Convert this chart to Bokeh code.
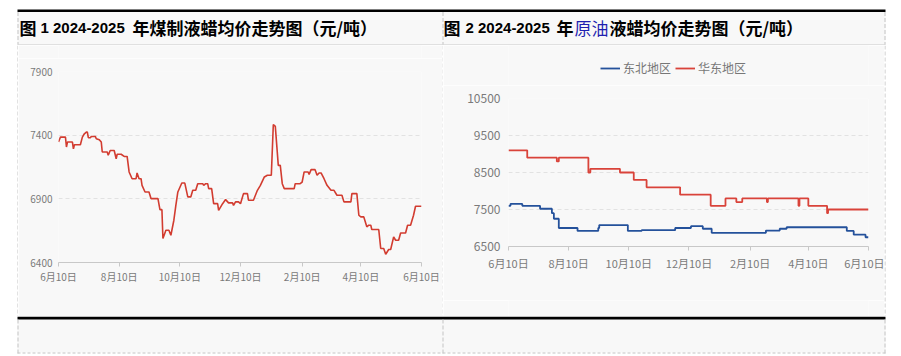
from bokeh.plotting import figure
from bokeh.layouts import column, row
from bokeh.models import Range1d, FixedTicker, Legend, LegendItem
from bokeh.embed import file_html
from bokeh.resources import INLINE
from bokeh.core.properties import value

# ---------------- data ----------------
# x values: days since 2024-06-10
tick_days = [0, 61, 122, 183, 245, 304, 365]
tick_labels = ["6月10日", "8月10日", "10月10日", "12月10日", "2月10日", "4月10日", "6月10日"]

# Figure 1: coal-based liquid wax average price (yuan/ton)
days_coal = [0, 2, 7, 8, 9, 14, 15, 16, 22, 24,
             26, 28, 29, 30, 32, 33, 37, 38, 41, 43,
             44, 49, 50, 52, 56, 58, 59, 63, 66, 69,
             71, 74, 78, 79, 81, 83, 84, 87, 91, 93,
             100, 102, 104, 105, 108, 111, 113, 116, 118, 120,
             124, 127, 130, 133, 135, 138, 140, 145, 146, 148,
             150, 151, 154, 156, 160, 161, 165, 168, 171, 175,
             176, 178, 181, 183, 186, 190, 191, 196, 200, 203,
             207, 210, 214, 216, 218, 221, 223, 225, 227, 237,
             238, 243, 245, 247, 251, 252, 254, 258, 260, 262,
             264, 267, 270, 274, 277, 280, 285, 287, 294, 295,
             300, 302, 304, 307, 310, 312, 314, 315, 322, 324,
             327, 329, 332, 334, 337, 339, 342, 344, 349, 351,
             354, 357, 359, 365]
price_coal = [7346, 7385, 7385, 7307, 7346, 7346, 7293, 7325, 7325, 7385,
              7411, 7424, 7424, 7380, 7380, 7390, 7390, 7372, 7364, 7346,
              7268, 7268, 7242, 7280, 7280, 7215, 7250, 7250, 7233, 7233,
              7111, 7058, 7058, 7103, 7058, 7058, 7006, 6954, 6954, 6902,
              6902, 6815, 6815, 6588, 6653, 6653, 6614, 6732, 6849, 6954,
              7024, 7024, 6915, 6915, 6967, 6967, 7019, 7019, 7006, 7019,
              7019, 6980, 6980, 6862, 6862, 6810, 6862, 6894, 6868, 6868,
              6849, 6876, 6876, 6862, 6941, 6941, 6889, 6889, 6967, 7006,
              7072, 7085, 7085, 7484, 7469, 7163, 7163, 7019, 6980, 6980,
              7019, 7019, 7032, 7111, 7111, 7092, 7129, 7129, 7085, 7103,
              7103, 7058, 7006, 6967, 6967, 6928, 6928, 6876, 6876, 6941,
              6941, 6771, 6758, 6758, 6680, 6693, 6693, 6659, 6659, 6510,
              6510, 6465, 6502, 6502, 6601, 6575, 6575, 6632, 6632, 6693,
              6693, 6771, 6842, 6842]
ticks_coal = [6400, 6900, 7400, 7900]

# Figure 2: crude-oil-based liquid wax (step changes: day -> price)
series_names = ["东北地区", "华东地区"]
days_ne = [0, 2, 14, 32, 44, 46, 51, 70, 91, 92, 121, 135, 169, 185, 197, 206, 261, 275, 282, 343, 350, 362, 365]
price_ne = [7600, 7650, 7600, 7520, 7400, 7250, 7000, 6920, 7000, 7080, 6920, 6940, 7000, 7050, 6980, 6870, 6930, 6980, 7020, 6920, 6820, 6750, 6750]
days_ec = [0, 19, 49, 51, 81, 83, 113, 127, 140, 174, 205, 220, 231, 237, 262, 263, 294, 295, 304, 323, 324, 365]
price_ec = [9100, 8900, 8800, 8900, 8500, 8600, 8500, 8300, 8100, 7900, 7600, 7800, 7700, 7800, 7700, 7800, 7600, 7800, 7600, 7400, 7500, 7500]
ticks_oil = [6500, 7500, 8500, 9500, 10500]

title1_parts = ["图", "1 2024-2025", "年煤制液蜡均价走势图（元/吨）"]
title2_parts = ["图", "2 2024-2025", "年", "原油", "液蜡均价走势图（元/吨）"]

# ---------------- style ----------------
FONT = "Noto Sans CJK SC"
LATIN = "Liberation Sans"
BG = "#f8f8f8"
BORDER = "#c4c4c4"
LABEL = "#7a7a7a"
RED1 = "#d23c30"
RED2 = "#d9433a"
BLUE = "#24519b"


def canvas(w, h, x0, x1, y0, y1, bg="#ffffff"):
    p = figure(width=w, height=h, x_range=Range1d(x0, x1), y_range=Range1d(y1, y0),
               output_backend="svg", toolbar_location=None,
               x_axis_location=None, y_axis_location=None,
               min_border=0, min_border_left=0, min_border_right=0,
               min_border_top=0, min_border_bottom=0)
    p.grid.visible = False
    p.outline_line_color = None
    p.background_fill_color = bg
    p.border_fill_color = bg
    return p


def title_piece(p, x, txt, font, size, bold=True, color="#000000"):
    p.text(x=[x], y=[27], text=[txt], text_font=value(font),
           text_font_style="bold" if bold else "normal",
           text_font_size=size, text_baseline="middle", text_color=color)


# header: page y 0..44
head = canvas(901, 45, 0, 901, 0, 45)
head.quad(left=17, right=885, top=11, bottom=44, fill_color=BG, line_color=None)
head.quad(left=17, right=885, top=9, bottom=11.5, fill_color="#000000", line_color=None)
head.segment(x0=17, y0=44.5, x1=885, y1=44.5, line_color=BORDER, line_width=1)
for xv in (17.5, 442.5, 884.5):
    head.segment(x0=xv, y0=11.5, x1=xv, y1=44, line_color=BORDER, line_width=1, line_dash="4 2")
title_piece(head, 19, title1_parts[0], FONT, "17px")
title_piece(head, 40, title1_parts[1], LATIN, "15px")
title_piece(head, 132, title1_parts[2], FONT, "17px")
title_piece(head, 443, title2_parts[0], FONT, "17px")
title_piece(head, 465, title2_parts[1], LATIN, "15px")
title_piece(head, 556, title2_parts[2], FONT, "17px")
title_piece(head, 574, title2_parts[3], FONT, "17px", bold=False, color="#1f1fb0")
title_piece(head, 609, title2_parts[4], FONT, "17px")


def vsep(w, xline, h=271):
    p = canvas(w, h, 0, w, 0, h)
    p.segment(x0=xline, y0=0, x1=xline, y1=h, line_color=BORDER, line_width=1, line_dash="4 2")
    return p


def chart(w, h, ymin, ymax, yticks, left, right, xfs, yfs, ystand, xstand):
    p = figure(width=w, height=h, x_range=Range1d(0, 365), y_range=Range1d(ymin, ymax),
               output_backend="svg", toolbar_location=None,
               min_border_left=left, min_border_right=right,
               min_border_top=13, min_border_bottom=54)
    p.background_fill_color = BG
    p.border_fill_color = BG
    p.outline_line_color = None
    p.xgrid.visible = False
    p.ygrid.grid_line_color = "#e2e2e2"
    p.ygrid.grid_line_dash = "4 3"
    p.ygrid.ticker = FixedTicker(ticks=yticks)
    xa = p.xaxis[0]
    xa.ticker = FixedTicker(ticks=tick_days)
    xa.major_label_overrides = dict(zip(tick_days, tick_labels))
    xa.axis_line_color = "#c8c8c8"
    xa.major_tick_line_color = "#c8c8c8"
    xa.major_tick_out = 4
    xa.major_tick_in = 0
    xa.minor_tick_line_color = None
    xa.major_label_text_font = FONT
    xa.major_label_text_font_size = xfs
    xa.major_label_text_color = LABEL
    xa.major_label_standoff = xstand
    ya = p.yaxis[0]
    ya.ticker = FixedTicker(ticks=yticks)
    ya.axis_line_color = None
    ya.major_tick_line_color = None
    ya.minor_tick_line_color = None
    ya.major_tick_out = 0
    ya.major_tick_in = 0
    ya.major_label_text_font = FONT
    ya.major_label_text_font_size = yfs
    ya.major_label_text_color = LABEL
    ya.major_label_standoff = ystand
    return p


# chart 1 cell: spacer 13 + chart 258
c1 = chart(424, 258, 6400, 7900, ticks_coal, 40, 21, "10px", "10px", 6, 2)
c1.line(days_coal, price_coal, line_color=RED1, line_width=1.6)
cell1 = column(canvas(424, 13, 0, 424, 0, 13, BG), c1, spacing=0)

# chart 2 cell: legend strip 40 + chart 215 + spacer 16
c2 = chart(441, 215, 6500, 10500, ticks_oil, 65, 16, "11px", "12px", 8, 4)
c2.step(days_ne, price_ne, mode="after", line_color=BLUE, line_width=1.8)
c2.step(days_ec, price_ec, mode="after", line_color=RED2, line_width=1.8)

lf = canvas(441, 40, 0, 441, 0, 40, BG)
l_ne = lf.line(days_ne, price_ne, line_color=BLUE, line_width=1.8, visible=False)
l_ec = lf.line(days_ec, price_ec, line_color=RED2, line_width=1.8, visible=False)
leg = Legend(items=[LegendItem(label=series_names[0], renderers=[l_ne]),
                    LegendItem(label=series_names[1], renderers=[l_ec])],
             orientation="horizontal", location=(92, 9),
             border_line_color=None, background_fill_alpha=0,
             label_text_font=FONT, label_text_font_size="12px", label_text_color="#777777",
             glyph_width=20, glyph_height=14, label_height=14, label_width=10,
             label_standoff=3, spacing=4, padding=0, margin=0)
lf.add_layout(leg)
cell2 = column(lf, c2, canvas(441, 16, 0, 441, 0, 16, BG), spacing=0)

mid = row(vsep(18, 17.5), cell1, vsep(1, 0.5), cell2, vsep(17, 0.5), spacing=0)

# bottom: page y 316..355
bot = canvas(901, 40, 0, 901, 316, 356)
bot.quad(left=17, right=885, top=319, bottom=352, fill_color=BG, line_color=None)
bot.quad(left=17, right=885, top=316, bottom=319, fill_color="#000000", line_color=None)
for xv in (17.5, 442.5, 884.5):
    bot.segment(x0=xv, y0=319, x1=xv, y1=353, line_color=BORDER, line_width=1, line_dash="4 2")
bot.segment(x0=17, y0=352.5, x1=885, y1=352.5, line_color=BORDER, line_width=1, line_dash="3 2")

layout = column(head, mid, bot, spacing=0)

open("out.html", "w").write(file_html(layout, INLINE))
